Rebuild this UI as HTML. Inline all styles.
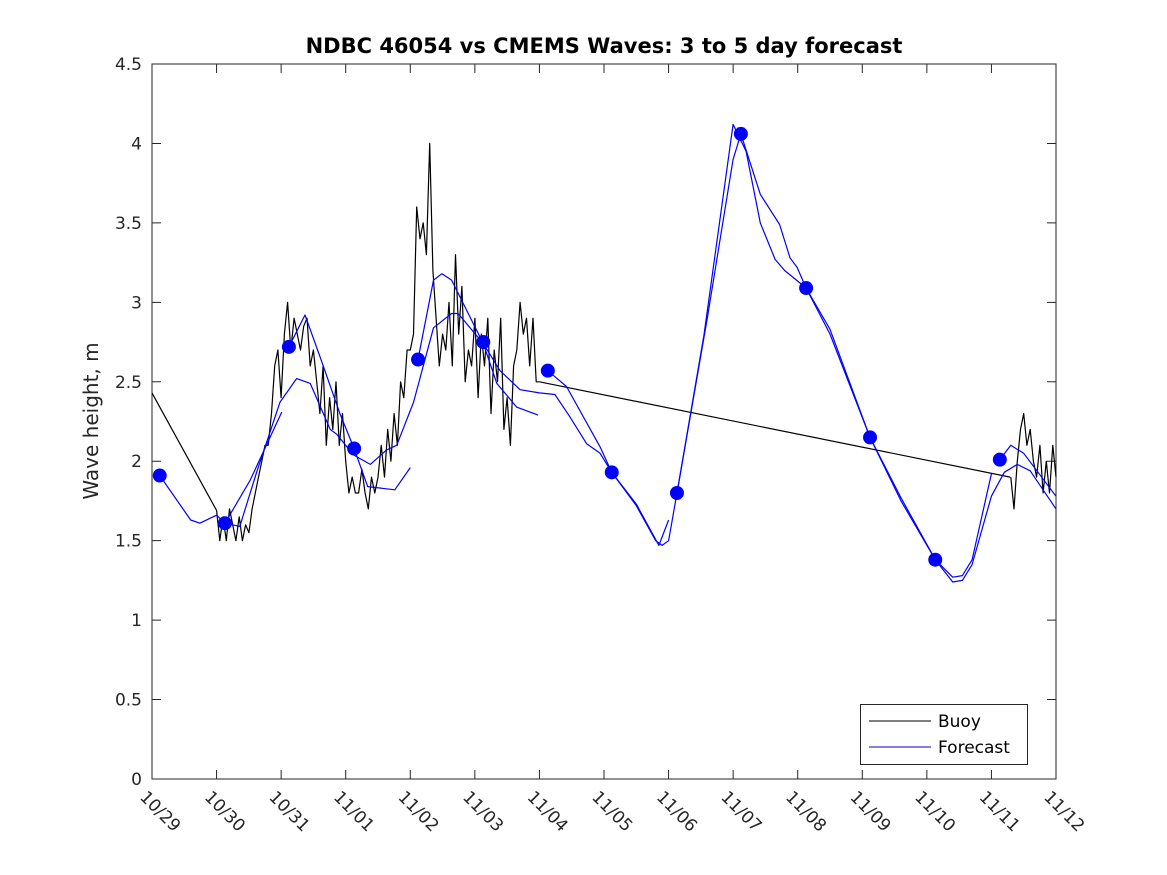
<!DOCTYPE html>
<html><head><meta charset="utf-8"><style>
body{margin:0;background:#fff}
svg{display:block;font-family:"DejaVu Sans","Liberation Sans",sans-serif}
</style></head><body>
<svg id="chart" width="1167" height="875">
<rect x="0" y="0" width="1167" height="875" fill="#fff"/>
<text x="604" y="53" text-anchor="middle" font-weight="bold" font-size="21" fill="#000">NDBC 46054 vs CMEMS Waves: 3 to 5 day forecast</text>
<text transform="translate(98,421) rotate(-90)" text-anchor="middle" font-size="20" fill="#262626">Wave height, m</text>
<g id="plot"></g>
</svg>
<script>
const xLabels=["10/29","10/30","10/31","11/01","11/02","11/03","11/04","11/05","11/06","11/07","11/08","11/09","11/10","11/11","11/12"];
const yTicks=[0,0.5,1,1.5,2,2.5,3,3.5,4,4.5];
const yTickLabels=["0","0.5","1","1.5","2","2.5","3","3.5","4","4.5"];
const buoyLeadT=[0,1.0];
const buoyLeadH=[2.43,1.69];
const buoyAStart=1.0, buoyAStep=0.05;
const buoyA=[1.69,1.5,1.65,1.5,1.7,1.6,1.5,1.65,1.5,1.6,
1.55,1.7,1.8,1.9,2.0,2.1,2.1,2.3,2.6,2.7,
2.4,2.8,3.0,2.7,2.9,2.8,2.7,2.85,2.9,2.6,
2.7,2.5,2.3,2.6,2.1,2.4,2.2,2.5,2.1,2.3,
2.0,1.8,1.9,1.8,1.8,1.95,1.8,1.7,1.9,1.8,
1.9,2.1,1.9,2.2,2.0,2.3,2.1,2.5,2.4,2.7,
2.7,2.8,3.6,3.4,3.5,3.3,4.0,3.2,2.9,2.6,
2.8,2.7,3.0,2.6,3.3,2.8,3.1,2.5,2.7,2.6,
2.9,2.4,2.8,2.6,2.9,2.3,2.7,2.5,2.9,2.2,
2.4,2.1,2.6,2.7,3.0,2.8,2.9,2.6,2.9,2.5,2.5];
const buoyGapT=[6.0,13.29];
const buoyGapH=[2.5,1.9];
const buoyBStart=13.3, buoyBStep=0.05;
const buoyB=[1.9,1.7,2.0,2.2,2.3,2.1,2.2,2.0,1.9,2.1,1.8,2.0,1.8,2.1,1.9];
const fcSeg1=[[0.12,1.91],[0.6,1.63],[0.74,1.61],[1.0,1.66],[1.13,1.61],[1.52,1.88],[2.01,2.31]];
const fcSeg2=[[1.13,1.61],[1.36,1.59],[1.62,1.93],[1.98,2.37],[2.24,2.52],[2.45,2.49],[2.76,2.2],[2.86,2.17],[3.12,2.04],[3.38,1.98],[3.63,2.07],[3.79,2.1],[4.05,2.37],[4.36,2.84],[4.64,2.93],[4.74,2.93],[5.13,2.74],[5.39,2.57],[5.7,2.45],[6.0,2.43],[6.24,2.42],[6.47,2.28],[6.73,2.11],[6.94,2.05],[7.12,1.93],[7.5,1.72],[7.8,1.5],[7.9,1.47],[8.0,1.5],[8.13,1.8],[8.6,2.9],[9.0,3.9],[9.12,4.06],[9.42,3.68],[9.72,3.49],[9.88,3.28],[9.99,3.22],[10.13,3.09],[10.5,2.8],[11.12,2.15],[11.6,1.75],[12.13,1.38],[12.4,1.24],[12.55,1.25],[12.7,1.35],[13.0,1.78],[13.2,1.93],[13.4,1.98],[13.6,1.94],[14.0,1.7]];
const fcSeg3=[[2.12,2.72],[2.37,2.92],[2.6,2.66],[2.91,2.3],[3.13,2.08],[3.34,1.84],[3.76,1.82],[4.0,1.96]];
const fcSeg4=[[4.12,2.64],[4.36,3.14],[4.49,3.18],[4.64,3.14],[5.13,2.74],[5.34,2.49],[5.65,2.34],[5.98,2.29]];
const fcSeg5=[[6.13,2.57],[6.42,2.47],[6.94,2.09],[7.12,1.93],[7.5,1.73],[7.85,1.47],[8.0,1.63]];
const fcSeg6=[[8.13,1.8],[8.55,2.8],[9.0,4.12],[9.2,3.95],[9.42,3.5],[9.65,3.27],[9.8,3.2],[10.13,3.09],[10.5,2.83],[11.12,2.15],[11.6,1.77],[12.13,1.38],[12.4,1.27],[12.55,1.28],[12.7,1.38],[13.0,1.92]];
const fcSeg7=[[13.13,2.01],[13.3,2.1],[13.5,2.05],[14.0,1.78]];
const dotT=[0.12,1.13,2.12,3.13,4.12,5.13,6.13,7.12,8.13,9.12,10.13,11.12,12.13,13.13];
const dotH=[1.91,1.61,2.72,2.08,2.64,2.75,2.57,1.93,1.80,4.06,3.09,2.15,1.38,2.01];

const L=152,R=1056,T=64,B=779;
const xS=d=>L+d*(R-L)/14;
const yS=h=>B-h*(B-T)/4.5;
const NS="http://www.w3.org/2000/svg";
const g=document.getElementById('plot');
function mk(tag,at){const e=document.createElementNS(NS,tag);for(const k in at)e.setAttribute(k,at[k]);g.appendChild(e);return e;}
function line(pts,color,name){
  const e=mk('polyline',{points:pts.map(p=>xS(p[0]).toFixed(1)+','+yS(p[1]).toFixed(1)).join(' '),fill:'none',stroke:color,'stroke-width':1.2,'stroke-linejoin':'round'});
  
  
}
const box=mk('rect',{x:L,y:T,width:R-L,height:B-T,fill:'none',stroke:'#262626','stroke-width':1});


yTicks.forEach((v,i)=>{
  const y=yS(v);
  const t=mk('path',{d:`M${L},${y}h9M${R},${y}h-9`,stroke:'#262626','stroke-width':1});
  
  
  const tx=mk('text',{x:L-10,y:y+6,'text-anchor':'end','font-size':17,fill:'#262626'});
  tx.textContent=yTickLabels[i];
  
  
});
xLabels.forEach((lab,i)=>{
  const x=xS(i);
  const t=mk('path',{d:`M${x},${B}v-9M${x},${T}v9`,stroke:'#262626','stroke-width':1});
  
  
  const tx=mk('text',{transform:`translate(${x-13},${B+19}) rotate(45)`,'font-size':17,fill:'#262626'});
  tx.textContent=lab;
  
  
});
line(buoyLeadT.map((t,i)=>[t,buoyLeadH[i]]),'#000','buoy-line-lead');
line(buoyA.map((h,i)=>[buoyAStart+i*buoyAStep,h]),'#000','buoy-line-a');
line(buoyGapT.map((t,i)=>[t,buoyGapH[i]]),'#000','buoy-line-gap');
line(buoyB.map((h,i)=>[buoyBStart+i*buoyBStep,h]),'#000','buoy-line-b');
[fcSeg1,fcSeg2,fcSeg3,fcSeg4,fcSeg5,fcSeg6,fcSeg7].forEach((s,i)=>line(s,'#0000ff','forecast-line-'+(i+1)));
dotT.forEach((t,i)=>{
  const c=mk('circle',{cx:xS(t),cy:yS(dotH[i]),r:7,fill:'#0000ff'});
  
  
});
const lg=mk('rect',{x:860.5,y:704.5,width:167,height:60,fill:'#fff',stroke:'#262626','stroke-width':1});


const l1=mk('line',{x1:869,x2:931,y1:721,y2:721,stroke:'#000','stroke-width':1});


const l2=mk('line',{x1:869,x2:931,y1:747,y2:747,stroke:'#0000cc','stroke-width':1});


const t1=mk('text',{x:938,y:727,'font-size':17,fill:'#000'});t1.textContent='Buoy';


const t2=mk('text',{x:938,y:753,'font-size':17,fill:'#000'});t2.textContent='Forecast';


</script>
</body></html>
